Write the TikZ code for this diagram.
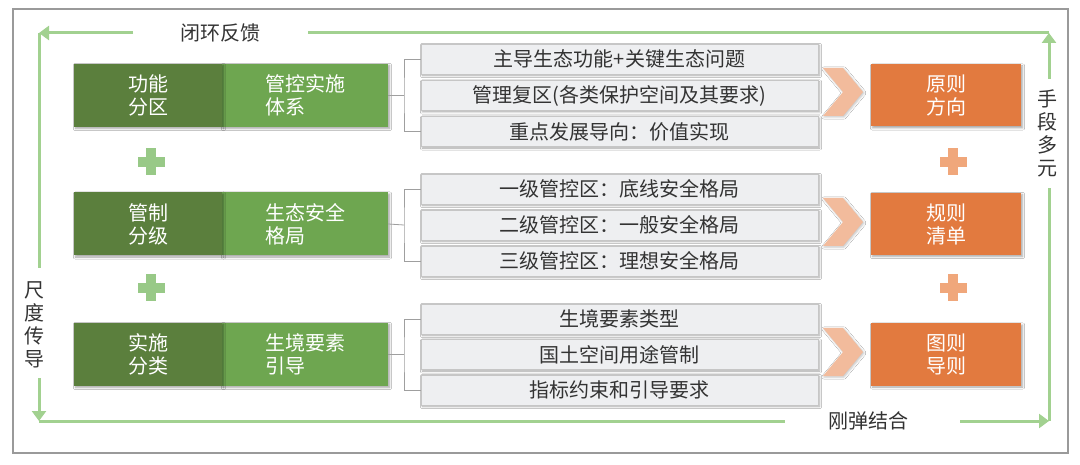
\documentclass[tikz,border=0pt]{standalone}
\usepackage{fontspec}
\setmainfont{Noto Sans CJK SC}
\usetikzlibrary{arrows.meta,shadows.blur}
\definecolor{darkg}{HTML}{5B7F3D}
\definecolor{lightg}{HTML}{6EA650}
\definecolor{orangec}{HTML}{E27A3F}
\definecolor{chevc}{HTML}{F2BB9C}
\definecolor{plusg}{HTML}{98C987}
\definecolor{pluso}{HTML}{F0A77B}
\definecolor{loopc}{HTML}{A2D190}
\definecolor{boxgray}{HTML}{EEEFF1}
\definecolor{txt}{HTML}{333333}
\definecolor{framec}{HTML}{9A9A9A}
\newcommand\myplus[3]{\fill[#3] ({#1-13.5},{#2-5}) rectangle ({#1+13.5},{#2+5});
  \fill[#3] ({#1-5},{#2-13.5}) rectangle ({#1+5},{#2+13.5});}
\newcommand\mychev[1]{\fill[chevc, blur shadow={shadow xshift=1pt,shadow yshift=-1pt,shadow blur steps=4,shadow opacity=25}] (823,{#1-24}) -- (843,{#1-24}) -- (863,#1) -- (843,{#1+24}) -- (823,{#1+24}) -- (843,#1) -- cycle;}
\begin{document}
\begin{tikzpicture}[x=1pt,y=-1pt,
  base/.style={font=\fontsize{20}{23}\selectfont, inner sep=0pt},
  shad/.style={blur shadow={shadow xshift=1.5pt,shadow yshift=-1.5pt,shadow blur steps=5,shadow opacity=35}},
  dgbox/.style={base, shad, fill=darkg, text=white, minimum width=148pt, minimum height=63pt, align=center},
  lgbox/.style={base, shad, fill=lightg, text=white, minimum width=166pt, minimum height=63pt, align=left},
  gbox/.style={base, shad, fill=boxgray, draw=gray!45, line width=0.8pt, text=txt, minimum width=397pt, minimum height=30pt},
  obox/.style={base, shad, fill=orangec, text=white, minimum width=150pt, minimum height=62pt, align=center},
  lbl/.style={base, text=txt, align=center},
  loopline/.style={draw=loopc, line width=3pt},
  looparrow/.style={loopline, -{Triangle[length=10pt,width=14pt]}},
  brk/.style={draw=gray!75, line width=0.8pt}]
\useasboundingbox (0,0) rectangle (1080,465);
\fill[white] (0,0) rectangle (1080,465);
\draw[framec, line width=1.3pt] (13,9) rectangle (1068,453);

% loop
\coordinate (TL) at (39,33);
\coordinate (TR) at (1049,33);
\coordinate (BL) at (39,421);
\coordinate (BR) at (1049,421);
\coordinate (t1) at (308,33);
\coordinate (t2) at (133,33);
\coordinate (l1) at (39,268);
\coordinate (l2) at (39,378);
\coordinate (b1) at (785,421);
\coordinate (b2) at (960,421);
\coordinate (r1) at (1049,188);
\coordinate (r2) at (1049,79);
\draw[loopline] (TR) -- (t1);
\draw[looparrow] (t2) -- (TL);
\draw[loopline] (TL) -- (l1);
\draw[looparrow] (l2) -- (BL);
\draw[loopline] (BL) -- (b1);
\draw[looparrow] (b2) -- (BR);
\draw[loopline] (BR) -- (r1);
\draw[looparrow] (r2) -- (TR);
\node[lbl] (ltop) at (220,33) {闭环反馈};
\node[lbl] (lbot) at (868,421) {刚弹结合};
\node[lbl] (lright) at (1047,133) {手\\段\\多\\元};
\node[lbl] (lleft) at (34,325) {尺\\度\\传\\导};

% row 1
\node[lgbox] (lg1) at (305,95.5) {管控实施\\体系};
\node[dgbox] (dg1) at (148,95.5) {功能\\分区};
\node[gbox] (g11) at (619.5,59) {主导生态功能+关键生态问题};
\node[gbox] (g12) at (619.5,95.5) {管理复区(各类保护空间及其要求)};
\node[gbox] (g13) at (619.5,131.5) {重点发展导向：价值实现};
\mychev{92}
\node[obox] (o1) at (946,95.5) {原则\\方向};
\coordinate (k1) at (404,95.5);
\draw[brk] (lg1.east) -- (k1);
\draw[brk] (g11.west) -| (k1) |- (g13.west);

% row 2
\node[lgbox] (lg2) at (305,224) {生态安全\\格局};
\node[dgbox] (dg2) at (148,224) {管制\\分级};
\node[gbox] (g21) at (619.5,189) {一级管控区：底线安全格局};
\node[gbox] (g22) at (619.5,225) {二级管控区：一般安全格局};
\node[gbox] (g23) at (619.5,261) {三级管控区：理想安全格局};
\mychev{222}
\node[obox] (o2) at (946,224) {规则\\清单};
\coordinate (k2) at (404,225);
\draw[brk] (lg2.east) -- (k2);
\draw[brk] (g21.west) -| (k2) |- (g23.west);

% row 3
\node[lgbox] (lg3) at (305,354.5) {生境要素\\引导};
\node[dgbox] (dg3) at (148,354.5) {实施\\分类};
\node[gbox] (g31) at (619.5,319) {生境要素类型};
\node[gbox] (g32) at (619.5,354.5) {国土空间用途管制};
\node[gbox] (g33) at (619.5,390) {指标约束和引导要求};
\mychev{352}
\node[obox] (o3) at (946,354.5) {图则\\导则};
\coordinate (k3) at (404,354.5);
\draw[brk] (lg3.east) -- (k3);
\draw[brk] (g31.west) -| (k3) |- (g33.west);

% plus signs
\myplus{151}{162}{plusg}
\myplus{151}{288}{plusg}
\myplus{953}{162}{pluso}
\myplus{953}{288}{pluso}
\end{tikzpicture}
\end{document}
